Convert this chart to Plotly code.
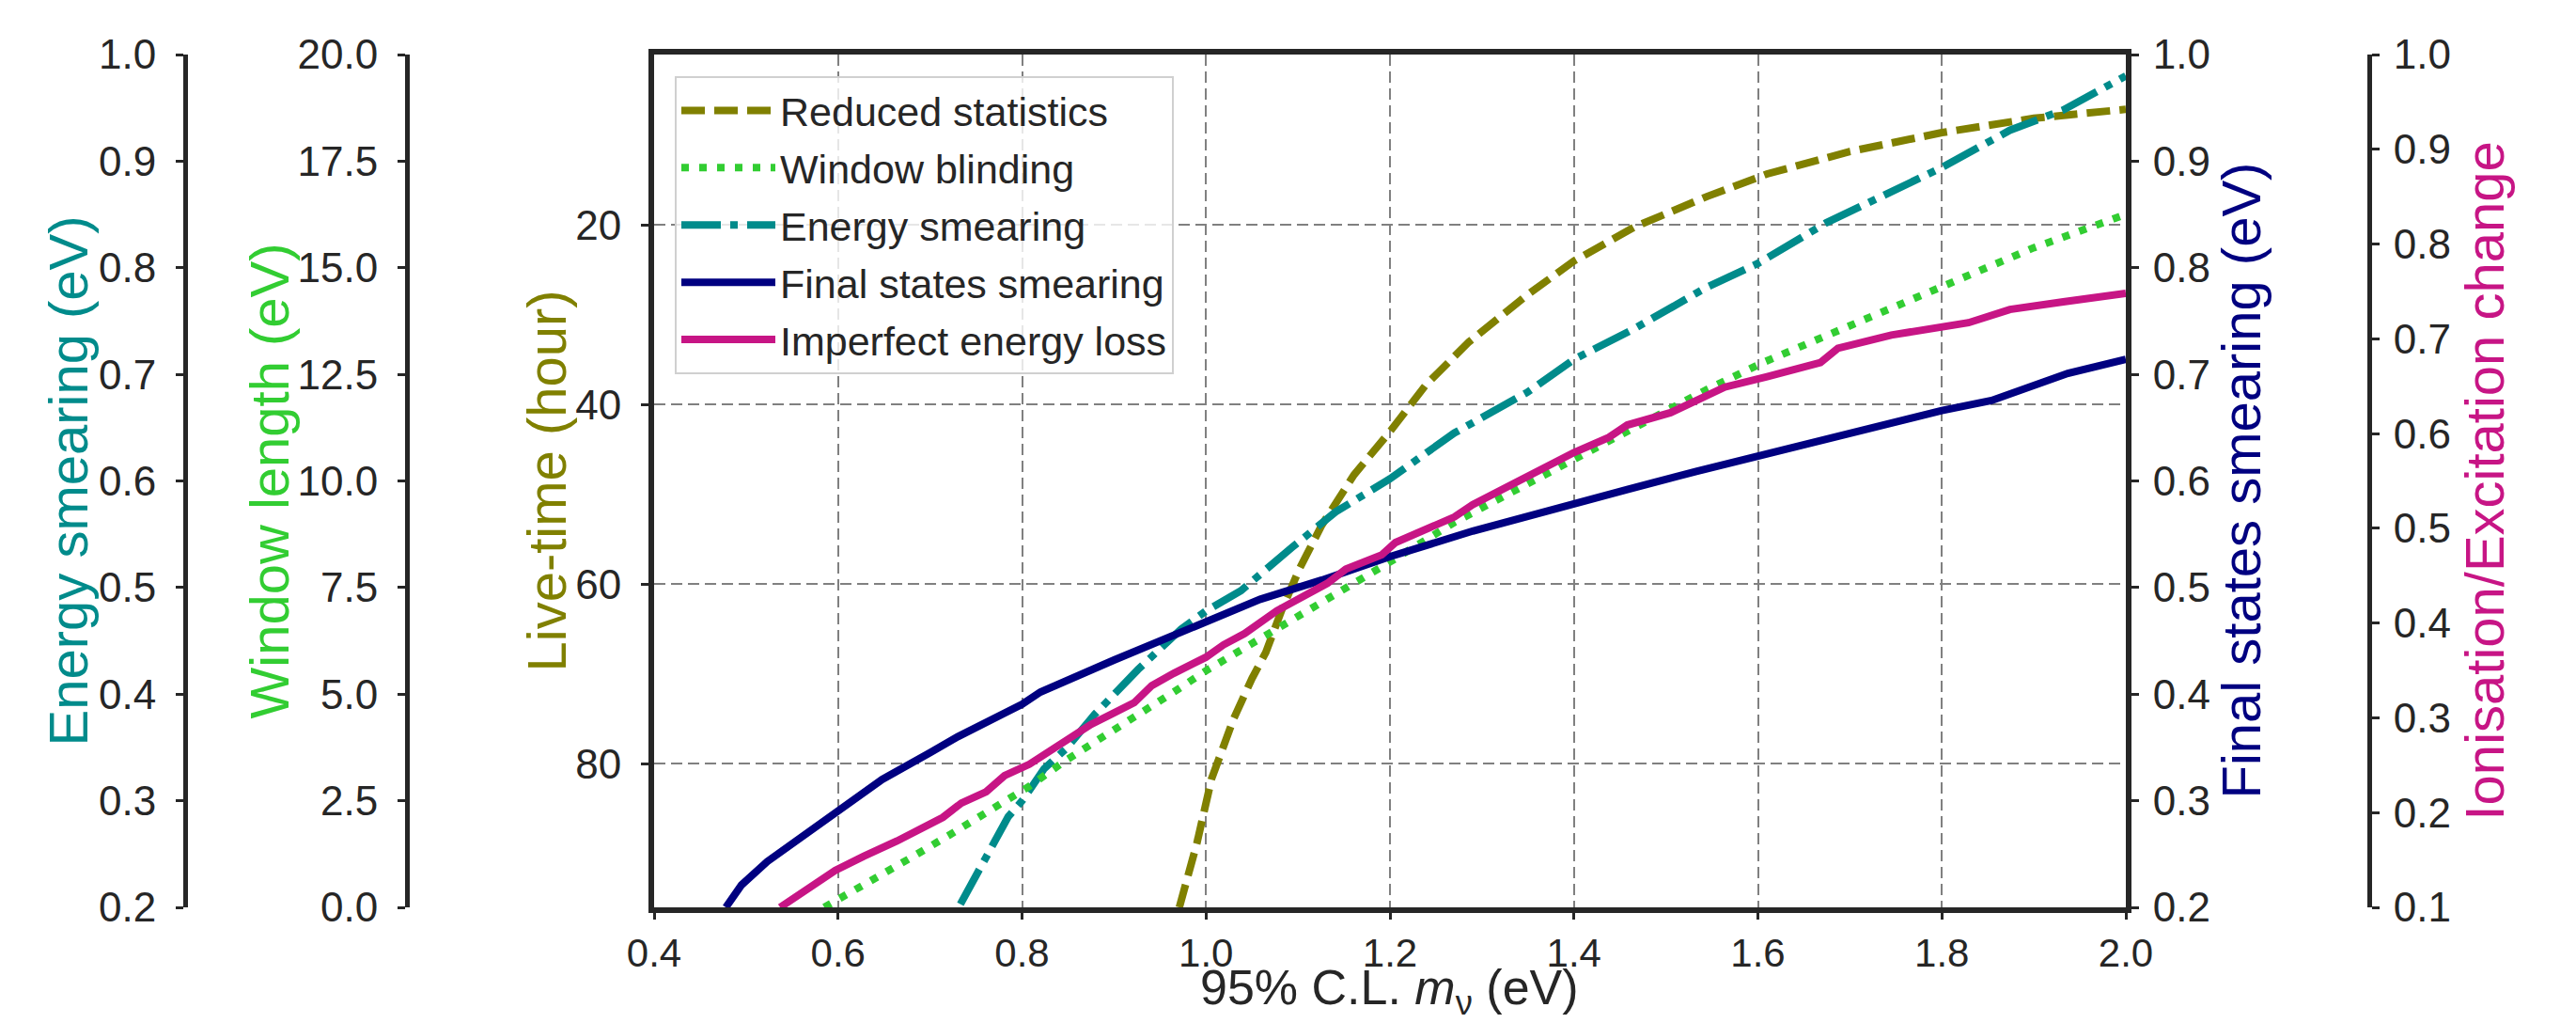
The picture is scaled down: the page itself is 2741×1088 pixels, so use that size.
import plotly.graph_objects as go

# ---------------- data ----------------
# Reduced statistics: live-time (hour) vs 95% C.L. m_nu (eV)
rs_mnu = [0.971, 0.99, 1.006, 1.03, 1.05, 1.065, 1.083, 1.102, 1.126, 1.161, 1.2,
          1.239, 1.286, 1.349, 1.4, 1.466, 1.545, 1.61, 1.7, 1.8, 1.9, 2.0]
rs_livetime = [96.0, 88.9, 81.7, 75.0, 70.5, 67.6, 62.7, 58.2, 53.4, 47.8, 43.0,
               37.8, 33.0, 27.8, 24.0, 20.2, 16.8, 14.3, 11.8, 9.7, 8.1, 7.1]

# Window blinding: window length (eV)
wb_mnu = [0.585, 0.628, 0.679, 0.726, 0.773, 0.808, 0.847, 0.883, 0.926, 0.965, 1.0,
          1.075, 1.153, 1.2, 1.27, 1.388, 1.466, 1.545, 1.607, 1.706, 1.803, 1.9, 2.0]
wb_window = [0.0, 0.52, 1.16, 1.76, 2.36, 2.84, 3.44, 3.92, 4.48, 5.05, 5.55,
             6.5, 7.51, 8.1, 9.03, 10.38, 11.27, 12.15, 12.79, 13.71, 14.59, 15.47, 16.25]

# Energy smearing (eV)
es_mnu = [0.733, 0.761, 0.785, 0.801, 0.824, 0.848, 0.879, 0.926, 0.973, 1.0, 1.038,
          1.094, 1.141, 1.2, 1.27, 1.349, 1.4, 1.466, 1.545, 1.6, 1.674, 1.8, 1.874,
          1.932, 2.0]
es_smear = [0.203, 0.249, 0.285, 0.301, 0.330, 0.349, 0.381, 0.423, 0.461, 0.478, 0.497,
            0.538, 0.571, 0.602, 0.645, 0.683, 0.714, 0.743, 0.782, 0.804, 0.842, 0.894,
            0.929, 0.948, 0.980]

# Final states smearing (eV)
fs_mnu = [0.478, 0.495, 0.523, 0.55, 0.578, 0.6, 0.648, 0.7, 0.73, 0.8, 0.82, 0.9,
          0.922, 1.0, 1.059, 1.126, 1.2, 1.29, 1.36, 1.4, 1.458, 1.533, 1.6, 1.723,
          1.8, 1.854, 1.894, 1.937, 2.0]
fs_smear = [0.2, 0.221, 0.243, 0.260, 0.278, 0.291, 0.320, 0.345, 0.360, 0.3905, 0.402,
            0.432, 0.440, 0.468, 0.489, 0.507, 0.529, 0.553, 0.570, 0.579, 0.592, 0.609,
            0.623, 0.650, 0.666, 0.6755, 0.687, 0.701, 0.714]

# Imperfect energy loss: ionisation/excitation change
ie_mnu = [0.537, 0.597, 0.628, 0.664, 0.714, 0.734, 0.761, 0.781, 0.808, 0.851, 0.875,
          0.922, 0.941, 0.965, 1.0, 1.019, 1.042, 1.077, 1.105, 1.132, 1.152, 1.191,
          1.206, 1.233, 1.27, 1.29, 1.4, 1.438, 1.458, 1.505, 1.564, 1.61, 1.668,
          1.687, 1.745, 1.829, 1.874, 1.932, 2.0]
ie_change = [0.1, 0.139, 0.154, 0.170, 0.195, 0.210, 0.222, 0.239, 0.251, 0.278, 0.293,
             0.316, 0.334, 0.347, 0.364, 0.377, 0.389, 0.413, 0.428, 0.442, 0.457, 0.472,
             0.485, 0.497, 0.512, 0.525, 0.580, 0.596, 0.609, 0.622, 0.649, 0.660, 0.675,
             0.690, 0.704, 0.717, 0.731, 0.739, 0.748]

series_names = ["Reduced statistics", "Window blinding", "Energy smearing",
                "Final states smearing", "Imperfect energy loss"]

x_title = "95% C.L. <i>m</i><sub>ν</sub> (eV)"
y_titles = ["Energy smearing (eV)", "Window length (eV)", "Live-time (hour)",
            "Final states smearing (eV)", "Ionisation/Excitation change"]

x_ticks = [0.4, 0.6, 0.8, 1.0, 1.2, 1.4, 1.6, 1.8, 2.0]
livetime_ticks = [20, 40, 60, 80]
smear_ticks = [0.2, 0.3, 0.4, 0.5, 0.6, 0.7, 0.8, 0.9, 1.0]
window_ticks = [0.0, 2.5, 5.0, 7.5, 10.0, 12.5, 15.0, 17.5, 20.0]
ion_ticks = [0.1, 0.2, 0.3, 0.4, 0.5, 0.6, 0.7, 0.8, 0.9, 1.0]

# ---------------- styling ----------------
W, H = 2741, 1088
OLIVE = "#808000"
LIME = "#32cd32"
TEAL = "#008b8b"
NAVY = "#000080"
MAGENTA = "#c71585"
DARK = "#262626"
FONT = "Liberation Sans, Arial, sans-serif"
TICKF = dict(family=FONT, size=44, color=DARK)
XTICKF = dict(family=FONT, size=42, color=DARK)
TITLEF = 58
LW = 8

x_dom = [696 / W, 2262 / W]
y_dom = [(H - 965) / H, (H - 58) / H]

fig = go.Figure()
fig.add_trace(go.Scatter(x=rs_mnu, y=rs_livetime, name=series_names[0], mode="lines",
                         line=dict(color=OLIVE, width=LW, dash="25px,10px"),
                         xaxis="x", yaxis="y", legendgroup="a"))
fig.add_trace(go.Scatter(x=wb_mnu, y=wb_window, name=series_names[1], mode="lines",
                         line=dict(color=LIME, width=LW, dash="8px,11px"),
                         xaxis="x", yaxis="y3", legendgroup="b"))
fig.add_trace(go.Scatter(x=es_mnu, y=es_smear, name=series_names[2], mode="lines",
                         line=dict(color=TEAL, width=LW, dash="42px,10px,8px,10px"),
                         xaxis="x", yaxis="y2", legendgroup="c"))
fig.add_trace(go.Scatter(x=fs_mnu, y=fs_smear, name=series_names[3], mode="lines",
                         line=dict(color=NAVY, width=LW),
                         xaxis="x", yaxis="y4", legendgroup="d"))
fig.add_trace(go.Scatter(x=ie_mnu, y=ie_change, name=series_names[4], mode="lines",
                         line=dict(color=MAGENTA, width=LW),
                         xaxis="x", yaxis="y5", legendgroup="e"))

common_y = dict(showgrid=False, zeroline=False, showline=True, linecolor=DARK,
                linewidth=5, ticks="outside", ticklen=8, tickwidth=3, tickcolor=DARK,
                tickfont=TICKF, ticklabelstandoff=12, domain=y_dom, automargin=False)

# axis titles placed as annotations (paper coords)
title_specs = [
    (y_titles[0], 72 / W, TEAL),
    (y_titles[1], 286 / W, LIME),
    (y_titles[2], 581 / W, OLIVE),
    (y_titles[3], 2384 / W, NAVY),
    (y_titles[4], 2643 / W, MAGENTA),
]
annotations = [
    dict(text=t, x=xp, y=(H - 511.5) / H, xref="paper", yref="paper",
         xanchor="center", yanchor="middle", textangle=-90, showarrow=False,
         font=dict(family=FONT, size=TITLEF, color=c))
    for t, xp, c in title_specs
]
annotations.append(
    dict(text=x_title, x=(696 + 2262) / 2 / W, y=0.0, xref="paper",
         yref="paper", xanchor="center", yanchor="bottom", showarrow=False,
         borderpad=0, font=dict(family=FONT, size=52, color=DARK))
)

fig.update_layout(
    width=W, height=H,
    margin=dict(l=0, r=0, t=0, b=0, autoexpand=False),
    paper_bgcolor="white", plot_bgcolor="white",
    font=dict(family=FONT, color=DARK),
    showlegend=True,
    annotations=annotations,
    legend=dict(x=718 / W, y=1 - 81 / H, xanchor="left", yanchor="top",
                bgcolor="rgba(255,255,255,0.8)", bordercolor="#d0d0d0", borderwidth=2,
                font=dict(family=FONT, size=43, color=DARK), itemwidth=100,
                tracegroupgap=2),
    xaxis=dict(domain=x_dom, range=[0.4, 2.0], anchor="y", automargin=False,
               tickvals=x_ticks, ticktext=[f"{v:.1f}" for v in x_ticks],
               showgrid=True, gridcolor="#808080", gridwidth=2, griddash="12px,6px",
               zeroline=False, showline=True, mirror=True, linecolor=DARK, linewidth=6,
               ticks="outside", ticklen=7, tickwidth=3, tickcolor=DARK,
               tickfont=XTICKF, ticklabelstandoff=0),
    yaxis=dict(common_y, range=[96, 1], anchor="x", side="left",
               tickvals=livetime_ticks, ticktext=[str(v) for v in livetime_ticks],
               showgrid=True, gridcolor="#808080", gridwidth=2, griddash="12px,6px",
               mirror=True, linewidth=6),
    yaxis2=dict(common_y, range=[0.2, 1.0], overlaying="y", anchor="free",
                position=197 / W, side="left",
                tickvals=smear_ticks, ticktext=[f"{v:.1f}" for v in smear_ticks]),
    yaxis3=dict(common_y, range=[0, 20], overlaying="y", anchor="free",
                position=433 / W, side="left",
                tickvals=window_ticks, ticktext=[f"{v:.1f}" for v in window_ticks]),
    yaxis4=dict(common_y, range=[0.2, 1.0], overlaying="y", anchor="x", side="right",
                linewidth=6, ticklabelstandoff=6,
                tickvals=smear_ticks, ticktext=[f"{v:.1f}" for v in smear_ticks]),
    yaxis5=dict(common_y, range=[0.1, 1.0], overlaying="y", anchor="free",
                position=2521 / W, side="right", ticklabelstandoff=6,
                tickvals=ion_ticks, ticktext=[f"{v:.1f}" for v in ion_ticks]),
)

fig.write_html("out.html")
